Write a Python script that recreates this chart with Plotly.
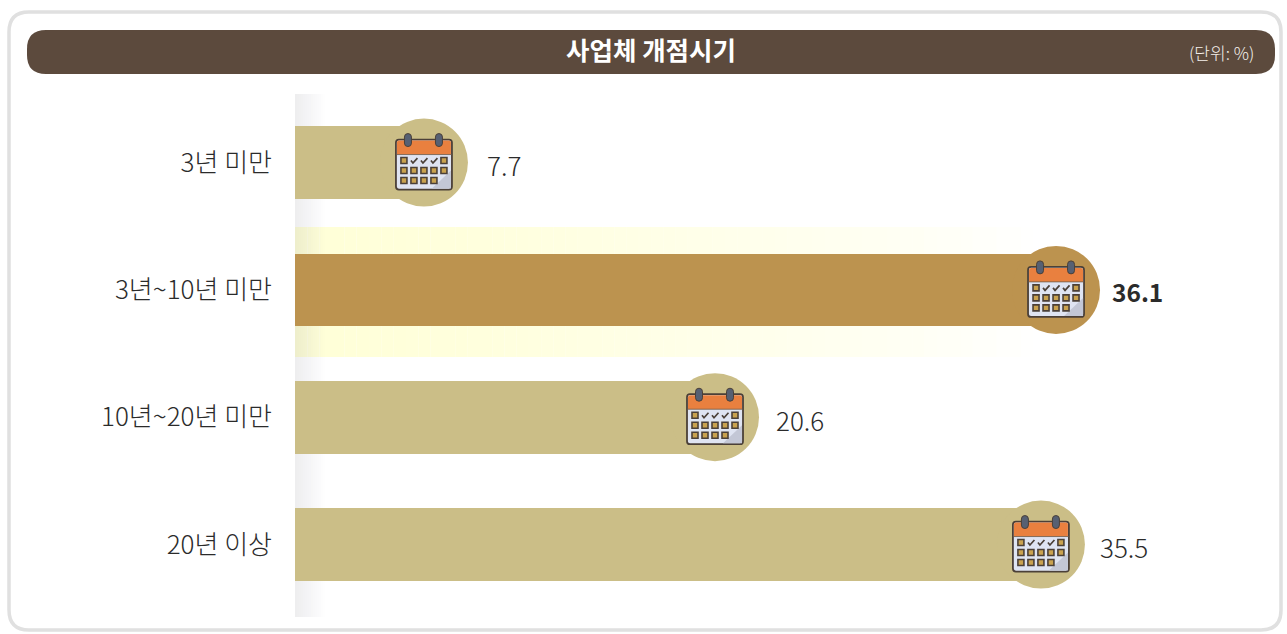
import plotly.graph_objects as go

# Data
categories = ["3년 미만", "3년~10년 미만", "10년~20년 미만", "20년 이상"]
values = ["7.7", "36.1", "20.6", "35.5"]
# The source graphic is not strictly to scale: drawn bar lengths as read from it
drawn_lengths = [6.14, 36.24, 20.0, 35.52]
bar_colors = ["#cbbe87", "#bc934f", "#cbbe87", "#cbbe87"]
label_weights = [False, True, False, False]
label_shift = [61, 54, 59, 57]
title_text = "사업체 개점시기"
unit_text = "(단위: %)"

W, H = 1287, 634
X0 = 295
SCALE = 21.0
TOP, BOTTOM = 98.9, 608.2
FONT = "Noto Sans CJK KR"


def px(x):
    return x / W


def py(y):
    return 1 - y / H


def xv(x):
    return (x - X0) / SCALE


def round_rect(x0, y0, x1, y1, r):
    a, b, c, d = px(x0), px(x1), py(y0), py(y1)
    rx, ry = r / W, r / H
    return (f"M {a+rx} {c} L {b-rx} {c} Q {b} {c} {b} {c-ry} L {b} {d+ry} Q {b} {d} {b-rx} {d} "
            f"L {a+rx} {d} Q {a} {d} {a} {d+ry} L {a} {c-ry} Q {a} {c} {a+rx} {c} Z")


shapes = []
# panel and title bar
shapes.append(dict(type="path", xref="paper", yref="paper", path=round_rect(9, 12, 1281, 630, 20),
                   line=dict(color="#e0e0e0", width=3.5), fillcolor="white", layer="below"))
shapes.append(dict(type="path", xref="paper", yref="paper", path=round_rect(27, 30, 1275, 74, 19),
                   line=dict(width=0), fillcolor="#5c4a3d", layer="below"))

# highlight band behind the second bar: a slow fade from pale yellow to white
band_stops = [(295, 1.0), (480, 0.85), (700, 0.55), (900, 0.3), (1045, 0.0)]
for (xa, aa), (xb, ab) in zip(band_stops, band_stops[1:]):
    n = max(1, int((xb - xa) / 12))
    for i in range(n):
        a = aa + (ab - aa) * (i + 0.5) / n
        shapes.append(dict(type="rect", xref="x", yref="paper",
                           x0=xv(xa + (xb - xa) * i / n), x1=xv(xa + (xb - xa) * (i + 1) / n),
                           y0=py(227), y1=py(357), fillcolor=f"rgba(255,255,215,{a:.3f})",
                           line=dict(width=0), layer="below"))

# grey axis strip
for i in range(15):
    t = i / 15
    shapes.append(dict(type="rect", xref="x", yref="paper", x0=xv(X0 + 2 * i), x1=xv(X0 + 2 * i + 2),
                       y0=py(94), y1=py(617), fillcolor=f"rgba(120,120,135,{0.13 * (1 - t):.3f})",
                       line=dict(width=0), layer="below"))


def rounded(x0, y0, x1, y1, r):
    """Rounded box in pixel offsets; y args point down, the path's y points up."""
    return (f"M {x0+r} {-y0} L {x1-r} {-y0} Q {x1} {-y0} {x1} {-y0-r} L {x1} {-y1+r} Q {x1} {-y1} {x1-r} {-y1} "
            f"L {x0+r} {-y1} Q {x0} {-y1} {x0} {-y1+r} L {x0} {-y0-r} Q {x0} {-y0} {x0+r} {-y0} Z")


def icon(xa, ya):
    """Calendar icon in pixel offsets around the bar end."""
    base = dict(type="path", xsizemode="pixel", ysizemode="pixel", xanchor=xa, yanchor=ya,
                xref="x", yref="y", layer="above")
    dark = "#4b4038"
    out = []
    # body
    out.append(dict(base, path=rounded(-28, -23, 28, 27, 3), fillcolor="#dfe4f2", line=dict(color=dark, width=1.8)))
    # folded corner
    out.append(dict(base, path="M 27 -8 L 27 -26 L 8 -26 Z", fillcolor="#c3c7d6", line=dict(width=0)))
    # header
    out.append(dict(base, path="M -27 8 L 27 8 L 27 20 Q 27 22 25 22 L -25 22 Q -27 22 -27 20 Z",
                    fillcolor="#e9803f", line=dict(width=0)))
    out.append(dict(base, path="M -28 8 L 28 8", line=dict(color="#6b5a4a", width=0.8)))
    # rings
    for dx in (-16, 15):
        out.append(dict(base, path=rounded(dx - 3.5, -29, dx + 3.5, -16, 3.5), fillcolor="#566073",
                        line=dict(color=dark, width=1.0)))
    # day boxes and ticks
    cols = [-20, -10, 0, 10, 20]
    rows = [-2, 8, 18]
    for r, dy in enumerate(rows):
        for c, dx in enumerate(cols):
            if r == 0 and c in (1, 2, 3):
                out.append(dict(base, path=f"M {dx-3} {-dy} L {dx-1} {-dy-2.5} L {dx+3.5} {-dy+2.5}",
                                line=dict(color=dark, width=1.7)))
            elif r == 2 and c == 4:
                continue
            else:
                out.append(dict(base, path=f"M {dx-3} {-dy-3} L {dx+3} {-dy-3} L {dx+3} {-dy+3} L {dx-3} {-dy+3} Z",
                                fillcolor="#c9a24f", line=dict(color=dark, width=1.6)))
    return out


for cat, length in zip(categories, drawn_lengths):
    shapes.extend(icon(length, cat))

fig = go.Figure()
fig.add_trace(go.Bar(y=categories, x=drawn_lengths, orientation="h", width=0.573,
                     marker=dict(color=bar_colors, line=dict(width=0)), hoverinfo="skip", showlegend=False))
fig.add_trace(go.Scatter(y=categories, x=drawn_lengths, mode="markers", hoverinfo="skip", showlegend=False,
                         marker=dict(size=88, color=bar_colors, line=dict(width=0))))

annotations = [
    dict(x=l, y=c, xref="x", yref="y", xanchor="left", yanchor="middle", xshift=s, yshift=-2, showarrow=False,
         text=f"<b>{v}</b>" if b else v,
         font=dict(family=FONT, size=24.5 if b else 26, color="#2b2b2b", weight=700 if b else 300))
    for c, l, v, s, b in zip(categories, drawn_lengths, values, label_shift, label_weights)
]
annotations.append(dict(x=px(1256), y=py(52), xref="paper", yref="paper", xanchor="right", yanchor="middle",
                        showarrow=False, text=unit_text, font=dict(family=FONT, size=17, color="#f5f1ec", weight=300)))

fig.update_layout(
    width=W, height=H, autosize=False,
    margin=dict(l=0, r=0, t=0, b=0),
    paper_bgcolor="white", plot_bgcolor="rgba(0,0,0,0)",
    title=dict(text=f"<b>{title_text}</b>", x=px(651), y=py(51), xanchor="center", yanchor="middle",
               xref="paper", yref="paper", font=dict(family=FONT, size=25.5, color="white")),
    xaxis=dict(domain=[px(X0), 1], range=[0, (W - X0) / SCALE], visible=False, showgrid=False, zeroline=False),
    yaxis=dict(domain=[py(BOTTOM), py(TOP)], type="category", categoryorder="array", categoryarray=categories,
               range=[3.5, -0.5], showgrid=False, zeroline=False, showline=False, ticks="",
               ticklabelstandoff=22, tickfont=dict(family=FONT, size=26, color="#2b2b2b", weight=300)),
    shapes=shapes, annotations=annotations, bargap=0, hovermode=False,
)
fig.write_html("out.html", config=dict(displayModeBar=False),
               post_script="document.documentElement.style.overflow='hidden';document.body.style.margin='0';"
                           "window.dispatchEvent(new Event('resize'));")
